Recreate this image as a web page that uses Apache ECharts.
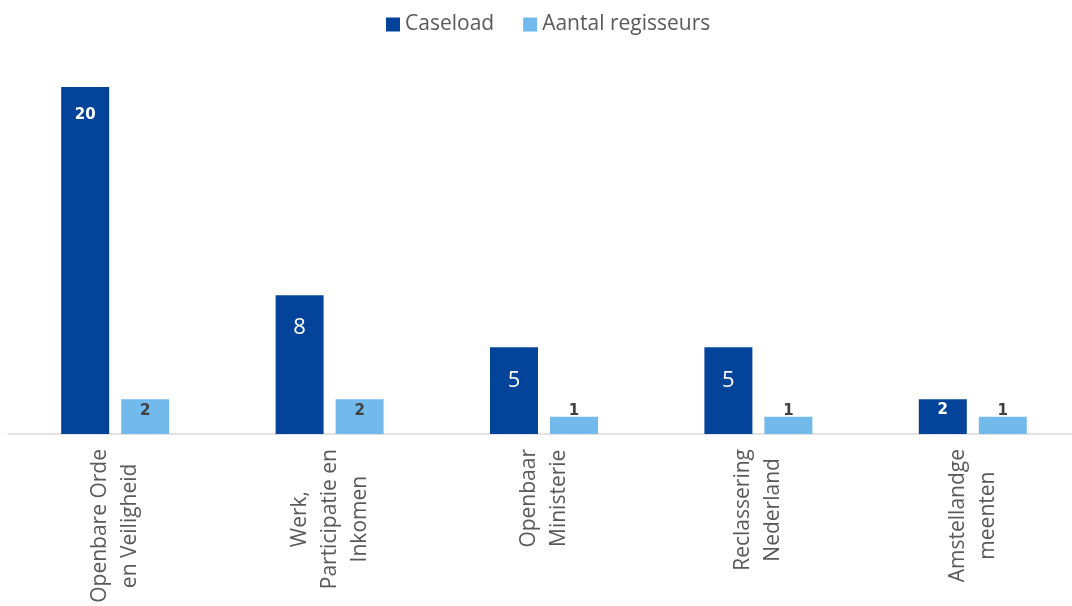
<!DOCTYPE html>
<html>
<head>
<meta charset="utf-8">
<script src="https://cdn.jsdelivr.net/npm/echarts@6/dist/echarts.min.js"></script>
<style>
html,body{margin:0;padding:0;background:#fff;}
#chart{width:1072px;height:606px;}
</style>
</head>
<body>
<div id="chart"></div>
<script>
const categories = [
  "Openbare Orde\nen Veiligheid",
  "Werk,\nParticipatie en\nInkomen",
  "Openbaar\nMinisterie",
  "Reclassering\nNederland",
  "Amstellandge\nmeenten"
];
const caseload = [20, 8, 5, 5, 2];
const regisseurs = [2, 2, 1, 1, 1];
const seriesNames = ["Caseload", "Aantal regisseurs"];

const DARK = "#03449A";
const LIGHT = "#72B9EC";

function darkLabel(v) {
  if (v >= 10) return {show:true, position:'insideTop', distance:21, color:'#fff', fontFamily:'DejaVu Sans', fontWeight:'bold', fontSize:15};
  if (v >= 4) return {show:true, position:'insideTop', distance:22, color:'#fff', fontFamily:'Open Sans', fontSize:22};
  return {show:true, position:'insideTop', distance:3, color:'#fff', fontFamily:'DejaVu Sans', fontWeight:'bold', fontSize:15};
}

const chart = echarts.init(document.getElementById('chart'));
chart.setOption({
  animation:false,
  backgroundColor:'#fff',
  legend:{
    top:9, left:381,
    icon:'rect', itemWidth:14, itemHeight:14, itemGap:29,
    textStyle:{fontFamily:'Open Sans', fontSize:21, color:'#595959'},
    data:seriesNames
  },
  grid:{left:8, width:1072, top:87, bottom:172, containLabel:false, outerBoundsMode:'none'},
  xAxis:{
    type:'category',
    data:categories.map(c => c.split('\n').map(s => '{c|' + s + '}').join('\n')),
    axisLine:{lineStyle:{color:'#d9d9d9', width:1.5}},
    axisTick:{show:false},
    axisLabel:{
      rotate:90, margin:15, interval:0,
      color:'#595959', fontFamily:'Open Sans', fontSize:21, lineHeight:30,
      rich:{c:{align:'center', fontFamily:'Open Sans', fontSize:21, lineHeight:30, color:'#595959'}}
    }
  },
  yAxis:{type:'value', min:0, max:20, show:false, splitLine:{show:false}},
  series:[
    {
      name:seriesNames[0], type:'bar', barWidth:48, barGap:'25%',
      itemStyle:{color:DARK},
      data:caseload.map(v => ({value:v, label:darkLabel(v)}))
    },
    {
      name:seriesNames[1], type:'bar', barWidth:48,
      itemStyle:{color:LIGHT},
      label:{show:true, position:'insideBottom', distance:15, color:'#404040', fontFamily:'DejaVu Sans', fontWeight:'bold', fontSize:15},
      data:regisseurs
    }
  ]
});
</script>
</body>
</html>
